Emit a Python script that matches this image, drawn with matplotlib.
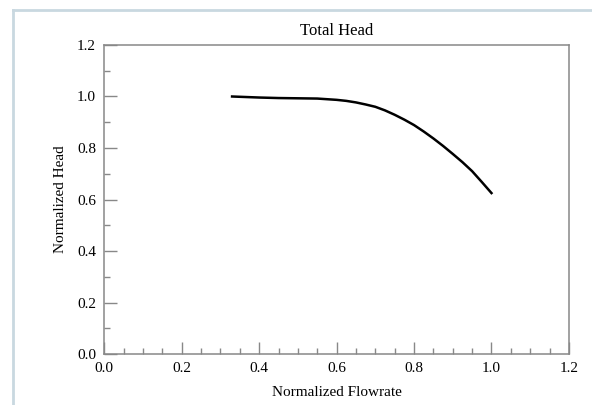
import matplotlib.pyplot as plt
from matplotlib.lines import Line2D
from matplotlib.ticker import MultipleLocator

# Normalized pump curve
flow = [0.33, 0.40, 0.45, 0.50, 0.55, 0.60, 0.625, 0.65, 0.675, 0.70, 0.725, 0.75,
        0.775, 0.80, 0.825, 0.85, 0.875, 0.90, 0.925, 0.95, 0.975, 1.00]
head = [1.000, 0.996, 0.994, 0.993, 0.992, 0.987, 0.983, 0.977, 0.969, 0.960, 0.946, 0.929,
        0.910, 0.889, 0.864, 0.837, 0.808, 0.777, 0.745, 0.710, 0.668, 0.625]

plt.rcParams['font.family'] = ['Liberation Serif', 'DejaVu Serif']

fig = plt.figure(figsize=(5.92, 4.05), dpi=100)
ax = fig.add_axes([0.1762, 0.1259, 0.7848, 0.763])

ax.plot(flow, head, color='black', linewidth=1.8, solid_joinstyle='round')

ax.set_xlim(0, 1.2)
ax.set_ylim(0, 1.2)
ax.xaxis.set_major_locator(MultipleLocator(0.2))
ax.xaxis.set_minor_locator(MultipleLocator(0.05))
ax.yaxis.set_major_locator(MultipleLocator(0.2))
ax.yaxis.set_minor_locator(MultipleLocator(0.1))
ax.xaxis.set_major_formatter(lambda v, p: f'{v:.1f}')
ax.yaxis.set_major_formatter(lambda v, p: f'{v:.1f}')

ax.tick_params(which='both', direction='in', colors='#888888', labelcolor='black',
               labelsize=11, top=False, right=False)
ax.tick_params(which='major', length=9, width=1.0, pad=6)
ax.tick_params(which='minor', length=4.5, width=1.0)
for s in ax.spines.values():
    s.set_color('#888888')
    s.set_linewidth(1.1)

ax.set_title('Total Head', fontsize=12, pad=7)
ax.set_xlabel('Normalized Flowrate', fontsize=11, labelpad=8)
ax.set_ylabel('Normalized Head', fontsize=11, labelpad=7)

# light frame around the figure
bc = '#c9d8e0'
fig.add_artist(Line2D([13 / 592, 1], [1 - 10 / 405, 1 - 10 / 405], color=bc, linewidth=2, transform=fig.transFigure))
fig.add_artist(Line2D([13 / 592, 13 / 592], [0, 1 - 10 / 405], color=bc, linewidth=2, transform=fig.transFigure))

fig.savefig('out.png', dpi=100)
